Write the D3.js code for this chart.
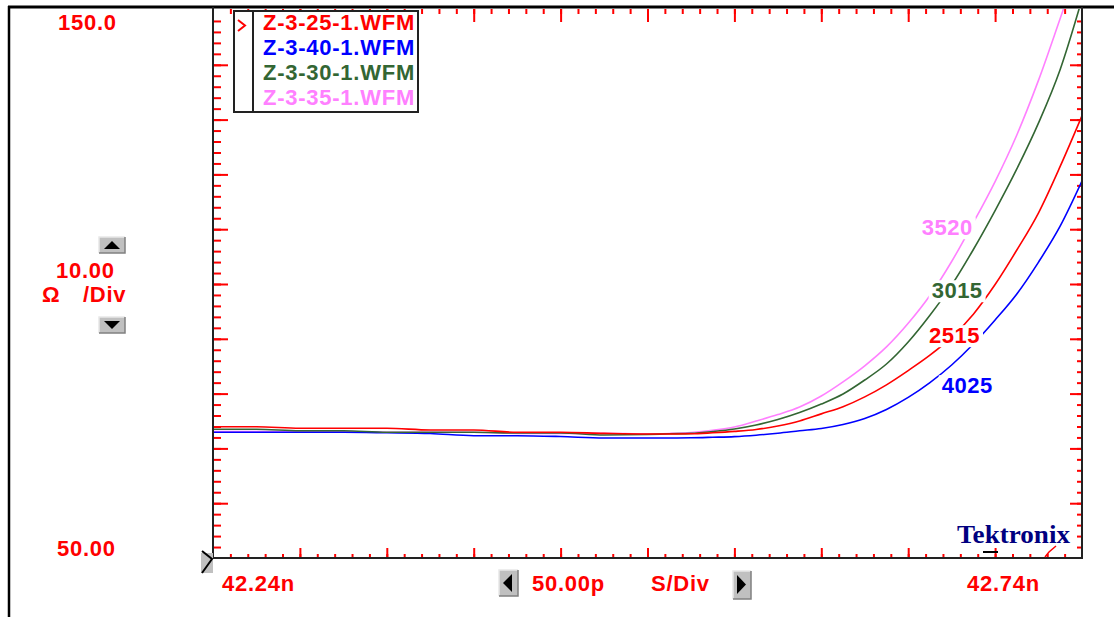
<!DOCTYPE html>
<html>
<head>
<meta charset="utf-8">
<script src="https://cdn.jsdelivr.net/npm/d3@7"></script>
<style>
  html, body { margin: 0; padding: 0; background: #fff; }
  svg { display: block; }
  text { font-family: "Liberation Sans", Arial, sans-serif; font-weight: bold; }
</style>
</head>
<body>
<script>
// ---------------- DATA ----------------
const times = [42.240, 42.265, 42.290, 42.315, 42.340, 42.365, 42.390, 42.415, 42.440, 42.465,
  42.490, 42.5025, 42.515, 42.5275, 42.540, 42.5525, 42.565, 42.5775, 42.590, 42.6025,
  42.615, 42.6275, 42.640, 42.6525, 42.665, 42.6775, 42.690, 42.7025, 42.715, 42.7275, 42.740];

const seriesNames = ["Z-3-25-1.WFM", "Z-3-40-1.WFM", "Z-3-30-1.WFM", "Z-3-35-1.WFM"];
const seriesTags  = ["2515", "4025", "3015", "3520"];

const z25 = [73.96, 73.96, 73.67, 73.67, 73.67, 73.36, 73.36, 72.94, 72.94, 72.75,
  72.63, 72.63, 72.66, 72.85, 73.10, 73.45, 74.10, 75.00, 76.30, 77.60,
  79.40, 81.60, 84.20, 87.00, 90.30, 94.50, 99.90, 106.2, 113.0, 121.5, 130.7];
const z40 = [72.94, 72.94, 72.94, 72.94, 72.85, 72.72, 72.32, 72.32, 72.17, 71.90,
  71.90, 71.90, 71.93, 72.03, 72.15, 72.41, 72.77, 73.21, 73.63, 74.36,
  75.46, 77.10, 79.30, 82.00, 85.22, 89.05, 93.43, 98.18, 104.0, 110.6, 118.8];
const z30 = [73.49, 73.49, 73.23, 73.23, 72.94, 72.94, 72.94, 72.81, 72.81, 72.45,
  72.54, 72.66, 72.75, 73.08, 73.54, 74.27, 75.27, 76.55, 78.10, 79.93,
  82.48, 85.40, 89.42, 94.30, 99.80, 106.3, 113.4, 121.0, 129.4, 139.2, 152.0];
const z35 = [73.08, 73.08, 73.08, 73.08, 72.94, 72.94, 72.94, 72.75, 72.75, 72.75,
  72.63, 72.72, 72.90, 73.30, 73.91, 75.00, 76.17, 77.55, 79.56, 82.14,
  85.07, 88.52, 92.83, 97.90, 104.1, 111.2, 118.7, 127.2, 137.2, 148.5, 160.0];

// tag anchor points in data units [time ns, ohms]
const tagAnchors = [[42.652, 89.2], [42.6593, 80.05], [42.6535, 97.4], [42.6478, 108.9]];

const yTopLabel = "150.0", yBottomLabel = "50.00", yScaleLabel = "10.00";
const xLeftLabel = "42.24n", xRightLabel = "42.74n", xScaleLabel = "50.00p";
const xDomain = [42.24, 42.74], yDomain = [50, 150];

// ---------------- LAYOUT ----------------
const W = 1114, H = 617;
const L = 213, R = 1082, T = 10, B = 558;
const colors = ["#ff0000", "#0000ff", "#336633", "#ff80ff"];
const values = [z25, z40, z30, z35];

const svg = d3.select("body").append("svg").attr("width", W).attr("height", H);

const x = d3.scaleLinear().domain(xDomain).range([L, R]);
const y = d3.scaleLinear().domain(yDomain).range([B, T]);

// frame
svg.append("line").attr("x1", 8).attr("x2", W).attr("y1", 7).attr("y2", 7)
  .attr("stroke", "#000").attr("stroke-width", 3);
svg.append("line").attr("x1", 9).attr("x2", 9).attr("y1", 6).attr("y2", H)
  .attr("stroke", "#000").attr("stroke-width", 2.5);

// ticks
const xMinor = d3.range(1, 50).map(i => xDomain[0] + i * 0.01);
const xMajor = d3.range(1, 10).map(i => xDomain[0] + i * 0.05);
const yMinor = d3.range(1, 50).map(i => yDomain[0] + i * 2);
const yMajor = d3.range(1, 10).map(i => yDomain[0] + i * 10);

function addAxis(axisGen, scale, vals, size, tr) {
  const g = svg.append("g").attr("transform", tr)
    .call(axisGen(scale).tickValues(vals).tickSize(size).tickFormat(""));
  g.select(".domain").remove();
  g.selectAll(".tick line").attr("stroke", "#ff0000").attr("stroke-width", 2);
}
addAxis(d3.axisRight, y, yMinor, 8, `translate(${L},0)`);
addAxis(d3.axisRight, y, yMajor, 15, `translate(${L},0)`);
addAxis(d3.axisLeft, y, yMinor, 5, `translate(${R},0)`);
addAxis(d3.axisLeft, y, yMajor, 12, `translate(${R},0)`);
addAxis(d3.axisBottom, x, xMinor, 5, `translate(0,9)`);
addAxis(d3.axisBottom, x, xMajor, 13, `translate(0,9)`);
addAxis(d3.axisTop, x, xMinor, 4, `translate(0,${B})`);
addAxis(d3.axisTop, x, xMajor, 10, `translate(0,${B})`);

// axes lines
svg.append("line").attr("x1", L).attr("x2", L).attr("y1", 7).attr("y2", B + 1)
  .attr("stroke", "#222").attr("stroke-width", 2);
svg.append("line").attr("x1", R).attr("x2", R).attr("y1", 7).attr("y2", B + 1)
  .attr("stroke", "#222").attr("stroke-width", 2);
svg.append("line").attr("x1", L).attr("x2", R + 1).attr("y1", B).attr("y2", B)
  .attr("stroke", "#222").attr("stroke-width", 2);

// clip
svg.append("clipPath").attr("id", "plot").append("rect")
  .attr("x", L + 1).attr("y", 9).attr("width", R - L - 2).attr("height", B - 10);

// curves
const line = d3.line().x(d => x(d[0])).y(d => y(d[1])).curve(d3.curveMonotoneX);
const drawOrder = [3, 1, 2, 0];
const cg = svg.append("g").attr("clip-path", "url(#plot)");
drawOrder.forEach(i => {
  cg.append("path").datum(times.map((t, k) => [t, values[i][k]]))
    .attr("d", line).attr("fill", "none")
    .attr("stroke", colors[i]).attr("stroke-width", 1.6);
});

// curve tags with white backing
seriesTags.forEach((tag, i) => {
  const tx = x(tagAnchors[i][0]), ty = y(tagAnchors[i][1]);
  const g = svg.append("g");
  const r = g.append("rect").attr("fill", "#fff");
  const t = g.append("text").attr("x", tx).attr("y", ty)
    .attr("font-size", 22).attr("letter-spacing", 0.5).attr("fill", colors[i]).text(tag);
  const bb = t.node().getBBox();
  r.attr("x", bb.x - 3).attr("y", bb.y + 2).attr("width", bb.width + 6).attr("height", bb.height - 3);
});

// legend
const lg = svg.append("g");
lg.append("rect").attr("x", 234).attr("y", 11).attr("width", 184).attr("height", 101)
  .attr("fill", "#fff").attr("stroke", "#222").attr("stroke-width", 2);
lg.append("line").attr("x1", 253).attr("x2", 253).attr("y1", 11).attr("y2", 112)
  .attr("stroke", "#222").attr("stroke-width", 2);
lg.append("path").attr("d", "M238,20 L245,25.5 L238,31").attr("fill", "none")
  .attr("stroke", "#ff0000").attr("stroke-width", 2);
seriesNames.forEach((n, i) => {
  lg.append("text").attr("x", 263).attr("y", 30 + i * 25)
    .attr("font-size", 22).attr("letter-spacing", 0.75).attr("fill", colors[i]).text(n);
});

// labels
function label(txt, xx, yy, anchor) {
  svg.append("text").attr("x", xx).attr("y", yy).attr("font-size", 22)
    .attr("letter-spacing", 0.75).attr("fill", "#ff0000")
    .attr("text-anchor", anchor || "start").text(txt);
}
label(yTopLabel, 58, y(150) + 20);
label(yBottomLabel, 57, y(50) - 2);
label(yScaleLabel, 56, 278);
label("\u03A9", 42, 302);
label("/Div", 83, 302);
label(xLeftLabel, 222, 591);
label(xScaleLabel, 532, 591);
label("S/Div", 651, 591);
label(xRightLabel, 967, 591);

// buttons
function button(bx, by, bw, bh, tri) {
  const g = svg.append("g");
  g.append("rect").attr("x", bx).attr("y", by).attr("width", bw).attr("height", bh).attr("fill", "#c0c0c0");
  g.append("path").attr("d", `M${bx},${by + bh} L${bx},${by} L${bx + bw},${by}`)
    .attr("fill", "none").attr("stroke", "#e8e8e8").attr("stroke-width", 1.5);
  g.append("path").attr("d", `M${bx},${by + bh} L${bx + bw},${by + bh} L${bx + bw},${by}`)
    .attr("fill", "none").attr("stroke", "#808080").attr("stroke-width", 1.5);
  g.append("path").attr("d", tri).attr("fill", "#000");
}
button(99, 237, 26, 16, "M104,249 L120,249 L112,241 Z");
button(99, 317, 26, 16, "M104,321 L120,321 L112,329 Z");
button(499, 570, 19, 26, "M512,574 L512,592 L503,583 Z");
button(733, 571, 18, 28, "M737,575 L737,594 L746,584.5 Z");

// bottom-left marker
svg.append("rect").attr("x", 201).attr("y", 553).attr("width", 12).attr("height", 20).attr("fill", "#c0c0c0");
svg.append("path").attr("d", "M202,551 L212,559 L202,573").attr("fill", "none")
  .attr("stroke", "#000").attr("stroke-width", 2);

// Tektronix logo
svg.append("text").attr("x", 957).attr("y", 543)
  .style("font-family", "'Liberation Serif', 'DejaVu Serif', serif")
  .attr("font-size", 25).attr("fill", "#000080")
  .attr("textLength", 113).attr("lengthAdjust", "spacingAndGlyphs").text("Tektronix");
svg.append("line").attr("x1", 983).attr("x2", 998).attr("y1", 552).attr("y2", 552)
  .attr("stroke", "#000").attr("stroke-width", 2);
svg.append("path").attr("d", "M1045,557 L1049,552 L1056,546").attr("fill", "none")
  .attr("stroke", "#ff0000").attr("stroke-width", 1.5);
</script>
</body>
</html>
